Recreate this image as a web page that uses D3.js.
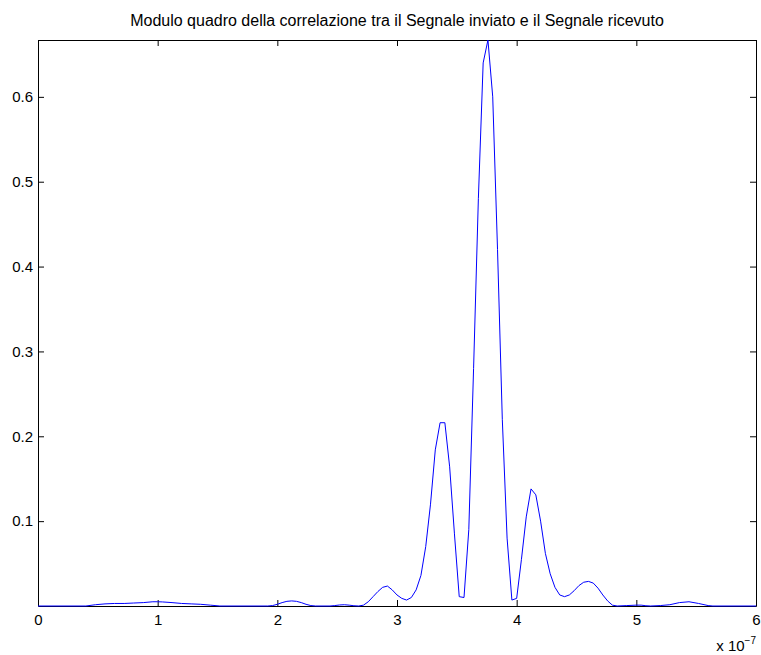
<!DOCTYPE html>
<html>
<head>
<meta charset="utf-8">
<script src="https://cdn.jsdelivr.net/npm/d3@7"></script>
<style>
  html, body { margin: 0; padding: 0; background: #ffffff; }
  svg { display: block; font-family: "Liberation Sans", Arial, Helvetica, sans-serif; }
</style>
</head>
<body>
<svg id="chart" width="761" height="655"></svg>
<script>
// Lag axis in units of 1e-7 s
const lagTimes = [
  0.00, 0.40, 0.48, 0.56, 0.64, 0.72, 0.80, 0.88, 0.96, 1.00,
  1.04, 1.12, 1.20, 1.28, 1.36, 1.44, 1.52, 1.92, 1.96, 2.00,
  2.04, 2.08, 2.12, 2.16, 2.20, 2.24, 2.28, 2.32, 2.44, 2.48,
  2.52, 2.56, 2.60, 2.64, 2.68, 2.72, 2.76, 2.80, 2.84, 2.88,
  2.92, 2.96, 3.00, 3.04, 3.08, 3.12, 3.16, 3.20, 3.24, 3.28,
  3.32, 3.36, 3.40, 3.44, 3.48, 3.52, 3.56, 3.60, 3.64, 3.68,
  3.72, 3.76, 3.80, 3.84, 3.88, 3.92, 3.96, 4.00, 4.04, 4.08,
  4.12, 4.16, 4.20, 4.24, 4.28, 4.32, 4.36, 4.40, 4.44, 4.48,
  4.52, 4.56, 4.60, 4.64, 4.68, 4.72, 4.76, 4.80, 4.84, 4.92,
  5.00, 5.04, 5.08, 5.12, 5.20, 5.28, 5.36, 5.44, 5.52, 5.60,
  5.64, 6.00
];

// |correlation|^2 between transmitted and received signal
const corrSquared = [
  0.0000, 0.0000, 0.0015, 0.0025, 0.0030, 0.0030, 0.0035, 0.0040, 0.0050, 0.0050,
  0.0048, 0.0040, 0.0030, 0.0025, 0.0020, 0.0010, 0.0000, 0.0000, 0.0005, 0.0020,
  0.0040, 0.0055, 0.0060, 0.0055, 0.0040, 0.0020, 0.0005, 0.0000, 0.0000, 0.0005,
  0.0012, 0.0015, 0.0010, 0.0003, 0.0000, 0.0010, 0.0050, 0.0110, 0.0170, 0.0220,
  0.0235, 0.0190, 0.0130, 0.0090, 0.0070, 0.0100, 0.0190, 0.0360, 0.0700, 0.1200,
  0.1840, 0.2160, 0.2160, 0.1640, 0.0850, 0.0110, 0.0100, 0.0900, 0.2800, 0.4800,
  0.6400, 0.6670, 0.6000, 0.4200, 0.2200, 0.0800, 0.0070, 0.0090, 0.0550, 0.1050,
  0.1380, 0.1310, 0.1000, 0.0620, 0.0380, 0.0220, 0.0130, 0.0110, 0.0130, 0.0180,
  0.0240, 0.0280, 0.0290, 0.0270, 0.0210, 0.0130, 0.0060, 0.0010, 0.0000, 0.0005,
  0.0010, 0.0010, 0.0003, 0.0000, 0.0005, 0.0015, 0.0040, 0.0050, 0.0030, 0.0005,
  0.0000, 0.0000
];

const xTicks = [0, 1, 2, 3, 4, 5, 6];
const yTicks = [0.1, 0.2, 0.3, 0.4, 0.5, 0.6];
const xDomain = [0, 6];
const yDomain = [0, 0.667];

const titleText = "Modulo quadro della correlazione tra il Segnale inviato e il Segnale ricevuto";

const margin = { left: 38, right: 5, top: 40, bottom: 49 };
const W = 761, H = 655;

const svg = d3.select("#chart");

const x = d3.scaleLinear().domain(xDomain).range([margin.left, W - margin.right]);
const y = d3.scaleLinear().domain(yDomain).range([H - margin.bottom, margin.top]);

const tickLen = 6;

function styleAxis(g) {
  g.attr("font-family", null).attr("font-size", null);
  g.selectAll(".domain").attr("stroke", "#000").attr("stroke-width", 1);
  g.selectAll(".tick line").attr("stroke", "#000").attr("stroke-width", 1);
  g.selectAll(".tick text").attr("fill", "#000").attr("font-size", 15);
}

// Bottom axis with labels
svg.append("g")
  .attr("transform", `translate(0,${y.range()[0]})`)
  .call(d3.axisBottom(x).tickValues(xTicks).tickFormat(d3.format("d"))
    .tickSizeInner(-tickLen).tickSizeOuter(0).tickPadding(8))
  .call(styleAxis);

// Top axis (box)
svg.append("g")
  .attr("transform", `translate(0,${y.range()[1]})`)
  .call(d3.axisTop(x).tickValues(xTicks).tickFormat("")
    .tickSizeInner(-tickLen).tickSizeOuter(0))
  .call(styleAxis);

// Left axis with labels
svg.append("g")
  .attr("transform", `translate(${x.range()[0]},0)`)
  .call(d3.axisLeft(y).tickValues(yTicks).tickFormat(d3.format(".1f"))
    .tickSizeInner(-tickLen).tickSizeOuter(0).tickPadding(5))
  .call(styleAxis);

// Right axis (box)
svg.append("g")
  .attr("transform", `translate(${x.range()[1]},0)`)
  .call(d3.axisRight(y).tickValues(yTicks).tickFormat("")
    .tickSizeInner(-tickLen).tickSizeOuter(0))
  .call(styleAxis);

// Correlation curve
const points = lagTimes.map((t, i) => [t, corrSquared[i]]);
const line = d3.line().x(d => x(d[0])).y(d => y(d[1]));
svg.append("path")
  .datum(points)
  .attr("d", line)
  .attr("fill", "none")
  .attr("stroke", "#0000ff")
  .attr("stroke-width", 1)
  .attr("stroke-linejoin", "round");

// Title
svg.append("text")
  .attr("x", (x.range()[0] + x.range()[1]) / 2)
  .attr("y", 26)
  .attr("text-anchor", "middle")
  .attr("font-size", 16)
  .attr("fill", "#000")
  .text(titleText);

// Exponent label for the lag axis
const expLabel = svg.append("text")
  .attr("x", x.range()[1])
  .attr("y", 651)
  .attr("text-anchor", "end")
  .attr("font-size", 15)
  .attr("fill", "#000");
expLabel.append("tspan").text("x 10");
expLabel.append("tspan").attr("font-size", 10).attr("dy", -7).text("−7");
</script>
</body>
</html>
